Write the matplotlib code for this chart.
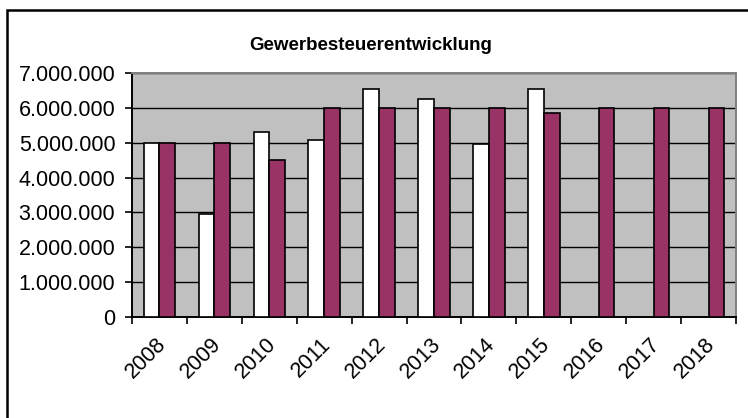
import matplotlib
matplotlib.use("Agg")
import matplotlib.pyplot as plt
import matplotlib.transforms as mtransforms
from matplotlib.patches import Rectangle
from matplotlib.ticker import FuncFormatter, MultipleLocator
import numpy as np

years = ["2008", "2009", "2010", "2011", "2012", "2013", "2014", "2015", "2016", "2017", "2018"]
ist = [5000000, 2950000, 5300000, 5070000, 6550000, 6250000, 4950000, 6550000, None, None, None]
plan = [5000000, 5000000, 4500000, 6000000, 6000000, 6000000, 6000000, 5850000, 6000000, 6000000, 6000000]

plt.rcParams["font.family"] = ["Liberation Sans", "DejaVu Sans"]

W, H = 748, 418
fig = plt.figure(figsize=(W / 100, H / 100), dpi=100)
ax = fig.add_axes([132 / W, 1 - 317 / H, (736 - 132) / W, (317 - 73) / H])

# outer chart frame (cropped on right and bottom)
fig.patches.append(Rectangle((7 / W, -0.2), 1.2, 1.2 - 10 / H, transform=fig.transFigure,
                             fill=False, edgecolor="black", linewidth=1.8, zorder=0))

ax.set_facecolor("#c0c0c0")
x = np.arange(len(years))
w = 1 / 3.5
ist_x = [xi for xi, v in zip(x, ist) if v is not None]
ist_v = [v for v in ist if v is not None]
ax.bar(np.array(ist_x) - w / 2, ist_v, w, color="white", edgecolor="black", linewidth=1.2, zorder=3)
ax.bar(x + w / 2, plan, w, color="#993366", edgecolor="black", linewidth=1.2, zorder=3)

ax.set_xlim(-0.5, len(years) - 0.5)
ax.set_ylim(0, 7000000)
ax.yaxis.set_major_locator(MultipleLocator(1000000))
ax.yaxis.set_major_formatter(FuncFormatter(lambda v, p: f"{int(v):,}".replace(",", ".")))
ax.grid(axis="y", color="black", linewidth=1.0, zorder=1)
ax.set_axisbelow(True)

ax.set_xticks(x)
ax.set_xticklabels(years, rotation=45, ha="right", rotation_mode="anchor", fontsize=15.5)
ax.set_xticks(np.arange(-0.5, len(years)), minor=True)
ax.tick_params(axis="x", which="major", length=0, pad=12)
ax.tick_params(axis="x", which="minor", length=5, width=1.2, direction="out")
offset = mtransforms.ScaledTranslation(-4 / 100, 0, fig.dpi_scale_trans)
for lab in ax.get_xticklabels():
    lab.set_transform(lab.get_transform() + offset)
ax.tick_params(axis="y", length=5, width=1.2, pad=7, labelsize=15.5)

for s in ["left", "bottom"]:
    ax.spines[s].set_color("black")
    ax.spines[s].set_linewidth(1.4)
for s in ["top", "right"]:
    ax.spines[s].set_color("#808080")
    ax.spines[s].set_linewidth(1.4)

fig.text(371 / W, 1 - 46 / H, "Gewerbesteuerentwicklung", ha="center", va="center",
         fontsize=13.5, fontweight="bold")

fig.savefig("out.png", dpi=100, facecolor="white")
